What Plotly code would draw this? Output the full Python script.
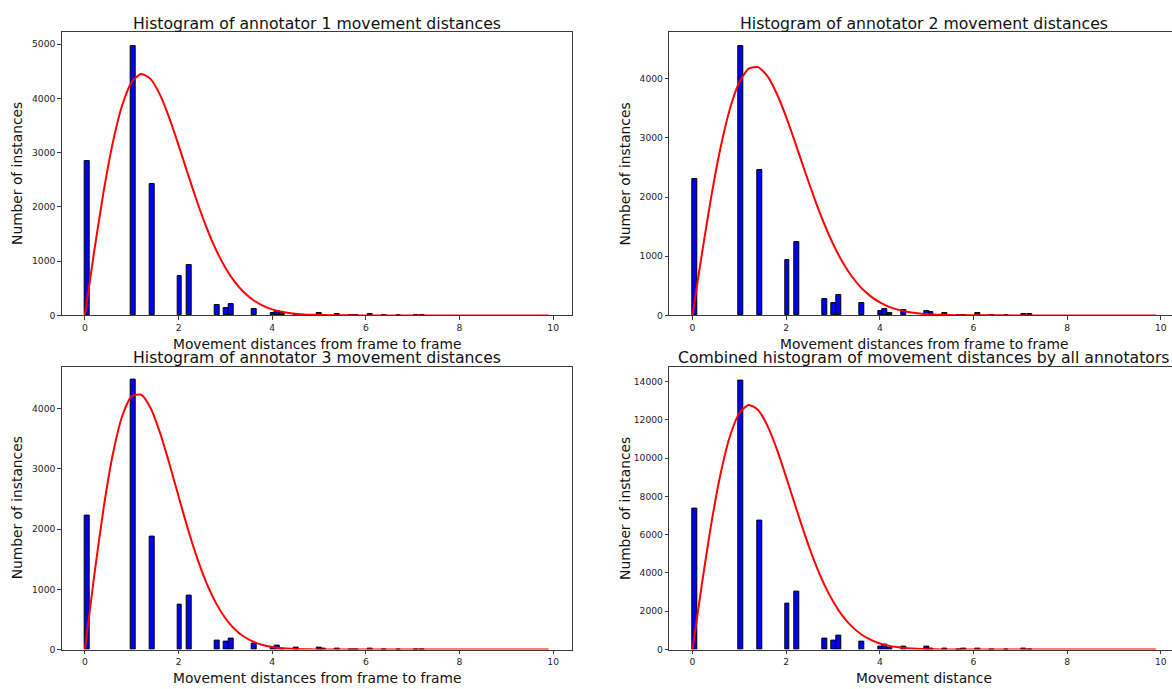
import plotly.graph_objects as go

W, H = 1172, 689

# ---------------- data ----------------
bin_centers = [0.05, 1.035, 1.43, 2.025, 2.23, 2.82, 3.015, 3.12, 3.61, 4.01, 4.11, 4.21,
               4.51, 4.995, 5.10, 5.39, 5.69, 5.79, 6.09, 6.40, 6.70, 7.08, 7.20]

counts_a1 = [2838, 4970, 2424, 725, 920, 183, 128, 207, 116, 43, 79, 37,
             30, 49, 8, 30, 5, 15, 20, 4, 6, 15, 4]
counts_a2 = [2299, 4560, 2450, 934, 1242, 268, 213, 341, 201, 73, 112, 45,
             84, 73, 56, 34, 12, 10, 34, 12, 12, 15, 15]
counts_a3 = [2231, 4475, 1874, 742, 890, 148, 126, 187, 105, 33, 60, 20,
             38, 38, 10, 12, 4, 6, 8, 3, 4, 5, 3]
counts_all = [7370, 14030, 6740, 2400, 3040, 590, 465, 725, 425, 140, 255, 90,
              170, 158, 72, 72, 21, 31, 62, 19, 22, 35, 22]

curve_x = [0, 0.2, 0.4, 0.6, 0.8, 1.0, 1.2, 1.4, 1.6, 1.8, 2.0, 2.2, 2.4, 2.6, 2.8, 3.0,
           3.2, 3.4, 3.6, 3.8, 4.0, 4.2, 4.4, 4.6, 4.8, 5.0, 5.2, 5.4, 5.6, 5.8, 6.0,
           7.0, 8.0, 9.0, 9.9]
curve1_y = [0, 1187, 2280, 3197, 3880, 4298, 4449, 4358, 4072, 3645, 3137, 2603, 2085, 1614,
            1209, 878, 617, 421, 279, 179, 111, 67, 40, 23, 13, 7, 4, 2, 1, 0, 0,
            0, 0, 0, 0]
curve2_y = [0, 1036, 2002, 2837, 3493, 3941, 4172, 4197, 4043, 3747, 3355, 2904, 2437, 1986,
            1572, 1211, 907, 662, 470, 326, 220, 145, 93, 58, 36, 21, 12, 7, 4, 2, 1,
            0, 0, 0, 0]
curve3_y = [0, 1233, 2350, 3256, 3883, 4205, 4234, 4015, 3612, 3099, 2545, 2002, 1514, 1100,
            771, 520, 338, 212, 129, 75, 43, 23, 12, 6, 3, 2, 1, 0, 0, 0, 0,
            0, 0, 0, 0]
curve4_y = [0, 3409, 6548, 9182, 11143, 12344, 12778, 12516, 11695, 10468, 9009, 7476, 5988,
            4635, 3472, 2522, 1772, 1209, 801, 514, 319, 192, 115, 66, 37, 20, 11, 6, 3, 0, 0,
            0, 0, 0, 0]

titles = ["Histogram of annotator 1 movement distances",
          "Histogram of annotator 2 movement distances",
          "Histogram of annotator 3 movement distances",
          "Combined histogram of movement distances by all annotators"]
xlabels = ["Movement distances from frame to frame",
           "Movement distances from frame to frame",
           "Movement distances from frame to frame",
           "Movement distance"]
ylabel = "Number of instances"

y_ticks = [
    [0, 1000, 2000, 3000, 4000, 5000],
    [0, 1000, 2000, 3000, 4000],
    [0, 1000, 2000, 3000, 4000],
    [0, 2000, 4000, 6000, 8000, 10000, 12000, 14000],
]
x_ticks = [0, 2, 4, 6, 8, 10]

# ---------------- layout geometry (pixels) ----------------
# (left, right_visible, right_full, top, bottom)
panels = [
    (61.7, 571.7, 571.7, 32.3, 317.7),
    (669.3, 1172.0, 1179.3, 32.3, 317.7),
    (61.7, 571.7, 571.7, 369.3, 654.3),
    (669.3, 1172.0, 1179.3, 369.3, 654.3),
]
y_max = [5220, 4789, 4699, 14778]
x_lo, x_hi_full = -0.495, 10.395

FONT = "DejaVu Sans"
LINE = "#3a3a3a"

fig = go.Figure()

counts = [counts_a1, counts_a2, counts_a3, counts_all]
curves = [curve1_y, curve2_y, curve3_y, curve4_y]

annotations = []
for i in range(4):
    sfx = "" if i == 0 else str(i + 1)
    xa, ya = "x" + sfx, "y" + sfx
    fig.add_trace(go.Bar(
        x=bin_centers, y=counts[i], width=0.105,
        marker=dict(color="#0000ff", line=dict(color="black", width=1)),
        xaxis=xa, yaxis=ya, showlegend=False,
    ))
    fig.add_trace(go.Scatter(
        x=curve_x, y=curves[i], mode="lines",
        line=dict(color="red", width=2, shape="spline", smoothing=0.6),
        xaxis=xa, yaxis=ya, showlegend=False,
    ))

    left, right_vis, right_full, top, bottom = panels[i]
    px_per_unit = (right_full - left) / (x_hi_full - x_lo)
    x_hi = x_lo + (right_vis - left) / px_per_unit
    full_panel = right_vis == right_full

    fig.layout["xaxis" + sfx] = dict(
        domain=[left / W, right_vis / W], anchor=ya, range=[x_lo, x_hi],
        tickvals=x_ticks, ticktext=[str(t) for t in x_ticks],
        ticks="outside", ticklen=3.5, tickwidth=1, tickcolor=LINE,
        showline=True, linecolor=LINE, linewidth=1, mirror=True,
        showgrid=False, zeroline=False,
        tickfont=dict(family=FONT, size=9.2, color="#222"),
    )
    fig.layout["yaxis" + sfx] = dict(
        domain=[1 - bottom / H, 1 - top / H], anchor=xa, range=[0, y_max[i]],
        tickvals=y_ticks[i], ticktext=[str(t) for t in y_ticks[i]],
        ticks="outside", ticklen=3.5, tickwidth=1, tickcolor=LINE,
        showline=True, linecolor=LINE, linewidth=1, mirror=full_panel,
        showgrid=False, zeroline=False,
        tickfont=dict(family=FONT, size=9.2, color="#222"),
    )

    cx_px = (left + right_full) / 2
    # title
    annotations.append(dict(
        text=titles[i], x=cx_px / W, y=1 - (top + 2.5) / H, xref="paper", yref="paper",
        xanchor="center", yanchor="bottom", showarrow=False,
        font=dict(family=FONT, size=15.7, color="#111"),
    ))
    # x label
    annotations.append(dict(
        text=xlabels[i], x=cx_px / W, y=1 - (bottom + 18.5) / H, xref="paper", yref="paper",
        xanchor="center", yanchor="top", showarrow=False,
        font=dict(family=FONT, size=13.8, color="#111"),
    ))
    # y label
    annotations.append(dict(
        text=ylabel, x=(left - 44.5) / W, y=1 - ((top + bottom) / 2) / H, xref="paper", yref="paper",
        xanchor="center", yanchor="middle", textangle=-90, showarrow=False,
        font=dict(family=FONT, size=13.8, color="#111"),
    ))

fig.update_layout(
    width=W, height=H, margin=dict(l=0, r=0, t=0, b=0),
    paper_bgcolor="white", plot_bgcolor="white",
    barmode="overlay", bargap=0,
    annotations=annotations,
    font=dict(family=FONT),
)

fig.write_html("out.html", include_plotlyjs=True, config={"displayModeBar": False})
